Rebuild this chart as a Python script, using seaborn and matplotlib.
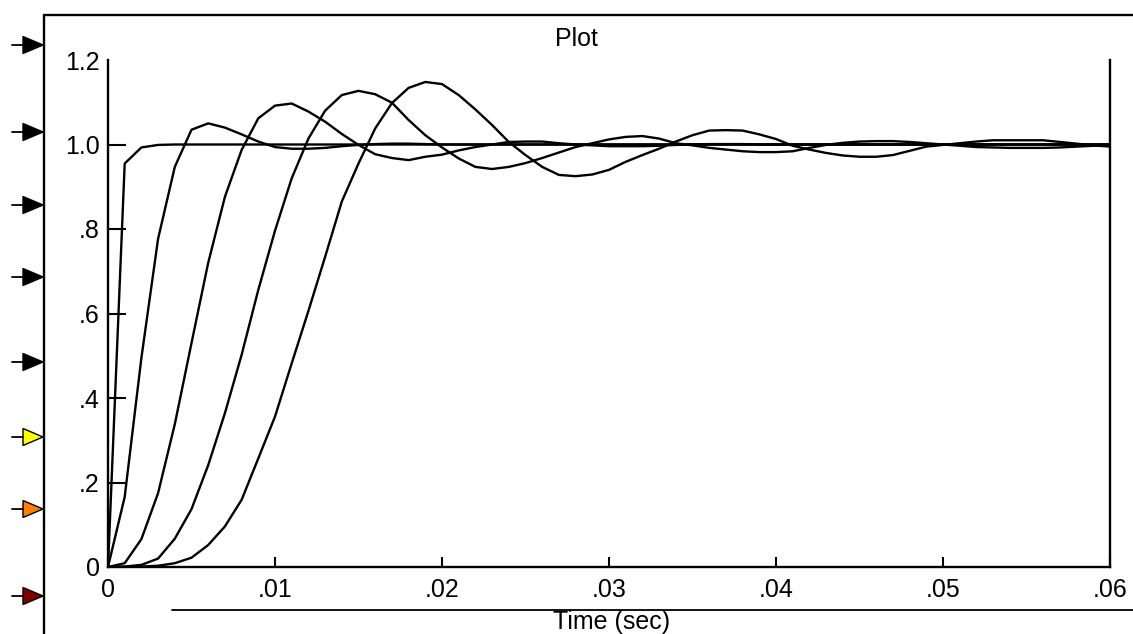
import pandas as pd
import numpy as np
import matplotlib
matplotlib.use("Agg")
import matplotlib.pyplot as plt
import seaborn as sns
from matplotlib.patches import Polygon
from matplotlib.lines import Line2D

# time axis, one sample per millisecond
time_s = [i / 1000 for i in range(61)]

# step responses
resp_1 = [0, 0.955, 0.993, 0.999] + [1.0] * 57
resp_2 = [0, 0.166, 0.495, 0.777, 0.947, 1.035, 1.05, 1.04, 1.024, 1.007,
          0.994, 0.99, 0.99, 0.992, 0.996, 0.999, 1.001, 1.002, 1.002, 1.001] + [1.0] * 41
resp_3 = [0, 0.009, 0.066, 0.175, 0.338, 0.53, 0.72, 0.876, 0.987, 1.062,
          1.092, 1.097, 1.078, 1.054, 1.025, 0.999, 0.977, 0.968, 0.963, 0.971,
          0.976, 0.986, 0.994, 1.0, 1.006, 1.007, 1.007, 1.003, 1.0, 0.998,
          0.996, 0.996, 0.996, 0.997, 0.999, 1.0, 1.001, 1.001, 1.001, 1.0] + [1.0] * 21
resp_4 = [0, 0.001, 0.005, 0.02, 0.067, 0.137, 0.241, 0.364, 0.502, 0.656,
          0.796, 0.92, 1.014, 1.08, 1.117, 1.127, 1.119, 1.099, 1.058, 1.022,
          0.993, 0.967, 0.947, 0.942, 0.947, 0.956, 0.968, 0.981, 0.994, 1.003,
          1.012, 1.018, 1.02, 1.014, 1.003, 0.998, 0.992, 0.988, 0.984, 0.982,
          0.982, 0.984, 0.992, 0.999, 1.004, 1.007, 1.008, 1.008, 1.006, 1.003,
          1.0, 0.997, 0.994, 0.993, 0.992, 0.992, 0.992, 0.993, 0.995, 0.997, 0.998]
resp_5 = [0, 0, 0.001, 0.003, 0.009, 0.022, 0.052, 0.096, 0.159, 0.257,
          0.356, 0.482, 0.606, 0.734, 0.865, 0.955, 1.038, 1.098, 1.134, 1.148,
          1.143, 1.117, 1.083, 1.046, 1.006, 0.975, 0.947, 0.928, 0.925, 0.929,
          0.94, 0.959, 0.975, 0.99, 1.007, 1.022, 1.033, 1.034, 1.033, 1.024,
          1.013, 0.997, 0.988, 0.98, 0.974, 0.971, 0.971, 0.975, 0.985, 0.995,
          0.999, 1.003, 1.007, 1.01, 1.01, 1.01, 1.01, 1.006, 1.002, 0.998, 0.995]

x_ticks = [0, 0.01, 0.02, 0.03, 0.04, 0.05, 0.06]
x_tick_labels = ["0", ".01", ".02", ".03", ".04", ".05", ".06"]
y_ticks = [0, 0.2, 0.4, 0.6, 0.8, 1.0, 1.2]
y_tick_labels = ["0", ".2", ".4", ".6", ".8", "1.0", "1.2"]

marker_colors = ["black", "black", "black", "black", "black", "#ffff00", "#ff8000", "#800000"]

# long table for seaborn
frames = []
for name, vals in [("c1", resp_1), ("c2", resp_2), ("c3", resp_3), ("c4", resp_4), ("c5", resp_5)]:
    frames.append(pd.DataFrame({"t": time_s, "v": vals, "curve": name}))
df = pd.concat(frames, ignore_index=True)

sns.set_style("white")
plt.rcParams['font.family'] = ['Liberation Sans', 'DejaVu Sans']
plt.rcParams['text.color'] = 'black'

W, H = 1133, 634
fig = plt.figure(figsize=(W / 100, H / 100), dpi=100)

# main plot axes
ax = fig.add_axes([108 / W, 1 - 567 / H, (1110 - 108) / W, (567 - 60) / H])
sns.lineplot(data=df, x="t", y="v", units="curve", estimator=None,
             color="black", linewidth=1.7, ax=ax, legend=False)

ax.set_xlim(0, 0.06)
ax.set_ylim(0, 1.2)
ax.set_xticks(x_ticks)
ax.set_xticklabels(x_tick_labels, fontsize=18, color="black")
ax.set_yticks(y_ticks)
ax.set_yticklabels(y_tick_labels, fontsize=18, color="black")
ax.tick_params(axis="y", direction="in", length=13, width=1.5, pad=6, left=True, colors="black")
ax.tick_params(axis="x", direction="in", length=7, width=1.5, pad=8, bottom=True, colors="black")
ax.yaxis.get_major_ticks()[-1].tick1line.set_visible(False)
ax.set_xlabel("")
ax.set_ylabel("")
ax.spines["top"].set_visible(False)
for s in ["left", "right", "bottom"]:
    ax.spines[s].set_visible(True)
    ax.spines[s].set_color("black")
    ax.spines[s].set_linewidth(1.7)
ax.set_facecolor("white")

# decoration overlay in pixel coordinates
deco = fig.add_axes([0, 0, 1, 1], facecolor="none")
deco.set_xlim(0, W)
deco.set_ylim(H, 0)
deco.axis("off")
deco.add_line(Line2D([44, W], [15, 15], color="black", lw=1.7))
deco.add_line(Line2D([44, 44], [15, H], color="black", lw=1.7))
deco.add_line(Line2D([172, W], [610, 610], color="black", lw=1.3))

marker_y = [45, 132, 205, 277, 362, 437, 509, 596]
for yy, col in zip(marker_y, marker_colors):
    deco.add_line(Line2D([12, 23], [yy, yy], color="black", lw=1.3))
    deco.add_patch(Polygon([[23, yy - 8.5], [23, yy + 8.5], [43, yy]], closed=True,
                           facecolor=col, edgecolor="black", lw=1.0))

fig.text(576 / W, 1 - 39 / H, "Plot", ha="center", va="center", fontsize=18, color="black")
fig.text(612 / W, 1 - 622 / H, "Time (sec)", ha="center", va="center", fontsize=18, color="black")

fig.savefig("out.png", dpi=100)
